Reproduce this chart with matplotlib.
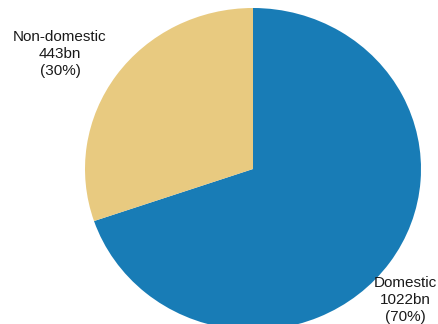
import matplotlib
matplotlib.use("Agg")
import matplotlib.pyplot as plt

plt.rcParams['font.family'] = ['Liberation Sans', 'DejaVu Sans']

labels = ["Domestic", "Non-domestic"]
values_bn = [1022, 443]
shares = [70, 30]
colors = ["#187cb6", "#e8ca80"]

W, H = 438, 324
# pie centre and radii in pixels (the pie is drawn slightly squashed)
cx, cy, rx, ry = 253, 169, 168, 161

fig = plt.figure(figsize=(W / 100, H / 100), dpi=100)
ax = fig.add_axes([0, 0, 1, 1])

ax.pie(values_bn, colors=colors, startangle=90, counterclock=False,
       radius=1, wedgeprops=dict(linewidth=0))
ax.set_aspect("auto")
ax.set_xlim(-cx / rx, (W - cx) / rx)
ax.set_ylim(-(H - cy) / ry, cy / ry)
ax.axis("off")

# label positions in pixels from top-left
label_pos = {"Domestic": (405, 300), "Non-domestic": (60, 54)}
for name, v, s in zip(labels, values_bn, shares):
    px, py = label_pos[name]
    ax.text(px / W, 1 - py / H, f"{name}\n{v}bn\n({s}%)",
            transform=ax.transAxes, ha="center", va="center",
            fontsize=11, linespacing=1.28, color="#1a1a1a")

fig.savefig("out.png", dpi=100)
